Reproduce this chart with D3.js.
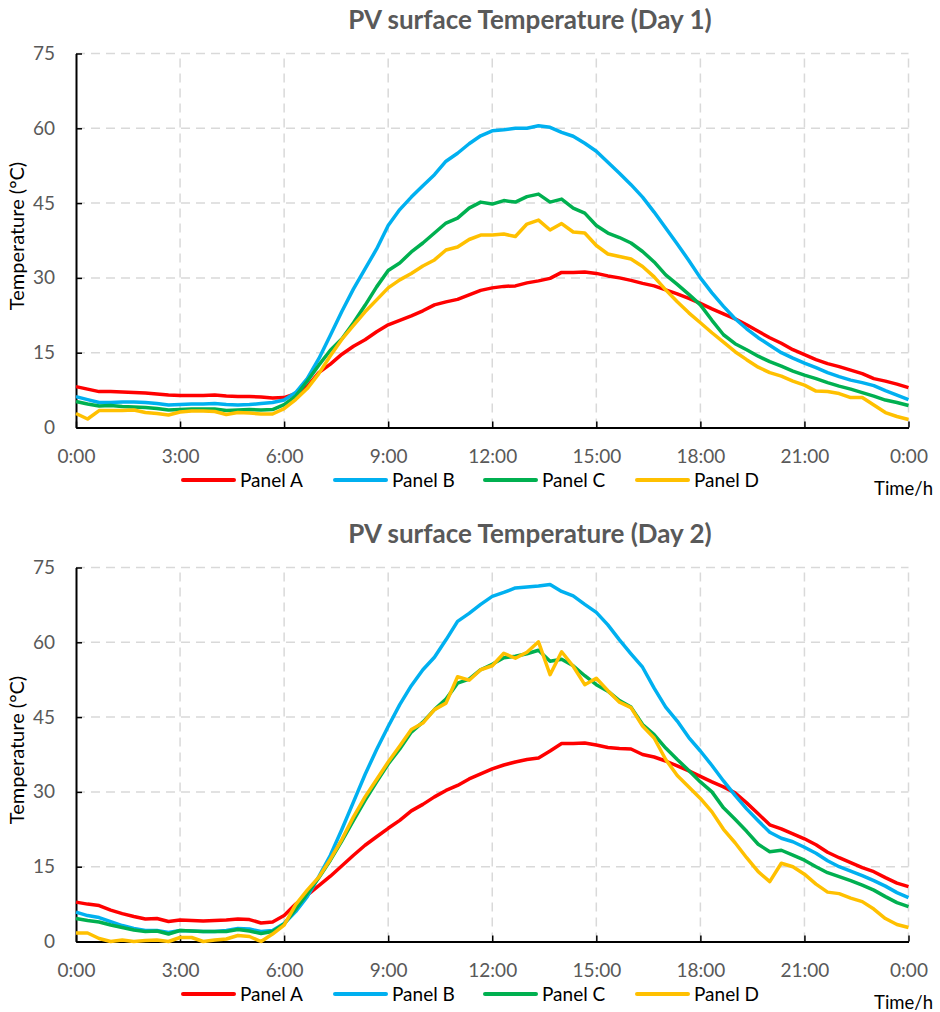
<!DOCTYPE html>
<html>
<head>
<meta charset="utf-8">
<script src="https://cdn.jsdelivr.net/npm/d3@7"></script>
<style>
  body { margin: 0; background: #fff; }
  text { font-family: Lato, "Open Sans", sans-serif; }
</style>
</head>
<body>
<svg id="chart" width="940" height="1012"></svg>
<script>
// Samples are logged every 20 minutes from 0:00 to 24:00 (73 readings per panel).
const sampleStepMinutes = 20;

const tickHours = [0, 3, 6, 9, 12, 15, 18, 21, 24];
const tickLabels = ["0:00", "3:00", "6:00", "9:00", "12:00", "15:00", "18:00", "21:00", "0:00"];
const tempTicks = [0, 15, 30, 45, 60, 75];

const panelNames = ["Panel A", "Panel B", "Panel C", "Panel D"];
const panelColors = ["#ff0000", "#00b0f0", "#00b050", "#ffc000"];

// Day 1 surface temperatures (°C)
const day1PanelA = [8.2,7.7,7.2,7.2,7.1,7.0,6.9,6.7,6.5,6.4,6.4,6.4,6.5,6.3,6.2,6.2,6.1,5.9,
  6.0,6.8,8.2,11.0,12.7,14.7,16.3,17.6,19.2,
  20.6,21.5,22.4,23.4,24.6,25.2,25.7,26.6,27.5,
  28.0,28.3,28.4,29.0,29.4,29.9,31.1,31.1,31.2,
  30.9,30.4,30.0,29.5,28.9,28.4,27.6,26.8,25.9,
  24.9,23.8,22.8,21.8,20.6,19.3,18.0,16.9,15.6,
  14.6,13.6,12.8,12.2,11.5,10.8,9.8,9.3,8.7,
  8.0];
const day1PanelB = [6.2,5.6,5.0,5.0,5.1,5.1,5.0,4.8,4.5,4.6,4.7,4.7,4.8,4.6,4.5,4.6,4.8,5.0,
  5.5,7.0,9.8,13.8,18.5,23.3,27.8,31.8,35.8,
  40.5,43.7,46.2,48.5,50.7,53.4,55.0,56.9,58.5,
  59.5,59.7,60.0,60.0,60.5,60.2,59.2,58.4,57.0,
  55.4,53.2,51.0,48.7,46.2,43.2,40.0,36.8,33.5,
  30.0,27.0,24.3,21.8,19.8,18.0,16.5,15.0,13.9,
  12.9,12.0,11.0,10.2,9.5,9.0,8.4,7.4,6.5,
  5.6];
const day1PanelC = [5.2,4.7,4.3,4.4,4.2,4.1,4.0,3.8,3.5,3.6,3.7,3.7,3.7,3.4,3.5,3.6,3.5,3.6,
  4.6,6.3,9.3,12.5,15.5,17.8,21.0,24.5,28.2,
  31.5,33.0,35.2,37.0,39.0,41.0,42.0,44.0,45.2,
  44.8,45.5,45.2,46.3,46.8,45.2,45.8,44.0,43.0,
  40.5,39.0,38.1,37.0,35.3,33.2,30.6,28.7,26.7,
  24.6,21.5,18.6,16.8,15.6,14.3,13.2,12.3,11.3,
  10.5,9.8,9.0,8.3,7.7,7.0,6.3,5.5,5.0,
  4.4];
const day1PanelD = [2.8,1.7,3.4,3.4,3.4,3.5,3.0,2.8,2.5,3.1,3.3,3.3,3.2,2.6,3.0,2.9,2.7,2.7,
  3.8,5.6,7.8,10.8,14.4,17.7,20.5,23.2,25.6,
  28.0,29.6,30.9,32.4,33.6,35.6,36.2,37.7,38.6,
  38.6,38.8,38.3,40.8,41.6,39.6,40.9,39.2,39.0,
  36.5,34.8,34.3,33.8,32.3,30.2,27.6,25.2,23.0,
  21.0,19.0,17.1,15.2,13.6,12.1,11.0,10.3,9.3,
  8.5,7.3,7.2,6.8,6.0,6.0,4.5,3.0,2.2,
  1.6];

// Day 2 surface temperatures (°C)
const day2PanelA = [7.9,7.5,7.2,6.3,5.6,5.0,4.5,4.6,4.0,4.3,4.2,4.1,4.2,4.3,4.5,4.4,3.7,3.9,
  5.2,7.5,9.3,11.2,13.1,15.2,17.3,19.3,21.0,
  22.7,24.3,26.2,27.5,29.0,30.3,31.3,32.6,33.6,
  34.6,35.4,36.0,36.5,36.8,38.2,39.7,39.7,39.8,
  39.4,38.9,38.7,38.6,37.5,37.0,36.2,35.2,34.2,
  33.1,32.0,31.0,29.8,27.8,25.6,23.4,22.6,21.6,
  20.6,19.4,17.9,16.8,15.8,14.8,14.0,12.8,11.7,
  11.0];
const day2PanelB = [5.9,5.2,4.8,4.0,3.2,2.6,2.2,2.2,1.8,2.2,2.1,2.0,2.0,2.2,2.6,2.5,2.0,2.2,
  3.6,6.0,9.0,13.0,17.3,22.5,28.0,33.5,38.5,
  43.1,47.5,51.3,54.5,57.0,60.5,64.2,65.8,67.6,
  69.2,70.0,70.9,71.1,71.3,71.6,70.2,69.3,67.6,
  66.0,63.5,60.5,57.7,55.0,50.8,47.0,44.2,40.9,
  38.2,35.3,32.2,29.3,26.6,24.2,21.9,20.7,20.0,
  18.9,17.7,16.2,15.0,14.1,13.2,12.2,11.1,9.8,
  8.8];
const day2PanelC = [4.6,4.2,3.9,3.3,2.8,2.3,2.0,2.1,1.5,2.2,2.1,2.0,2.0,2.0,2.4,2.1,1.6,2.0,
  3.5,6.5,9.6,12.8,16.3,20.2,24.3,28.3,32.0,
  35.6,38.6,42.0,44.0,46.5,48.6,51.8,52.6,54.5,
  55.6,56.9,57.2,57.7,58.4,56.2,56.6,55.3,53.3,
  51.5,50.2,48.3,47.0,43.5,41.5,38.8,36.5,34.3,
  32.0,30.0,26.8,24.5,22.1,19.5,18.0,18.3,17.3,
  16.3,15.0,13.8,13.0,12.2,11.3,10.3,9.0,7.8,
  7.0];
const day2PanelD = [1.7,1.7,0.6,0.0,0.3,0.0,0.2,0.3,0.0,0.8,0.8,0.0,0.3,0.5,1.2,1.0,0.0,1.5,
  3.3,7.4,10.3,12.9,16.5,20.5,25.0,29.0,32.5,
  36.0,39.2,42.5,43.8,46.5,47.8,53.1,52.4,54.5,
  55.3,57.8,56.8,58.0,60.1,53.5,58.1,55.2,51.5,
  52.8,50.3,48.0,46.9,43.2,40.8,36.5,33.3,31.0,
  28.7,26.0,22.5,19.8,16.8,14.0,12.0,15.7,15.0,
  13.5,11.5,9.9,9.6,8.7,8.0,6.5,4.6,3.4,
  2.8];

const days = [
  { title: "PV surface Temperature (Day 1)", top: 53.5, series: [day1PanelA, day1PanelB, day1PanelC, day1PanelD] },
  { title: "PV surface Temperature (Day 2)", top: 567.5, series: [day2PanelA, day2PanelB, day2PanelC, day2PanelD] }
];

const svg = d3.select("#chart");
const plotLeft = 76, plotRight = 908.5, plotHeight = 374;
const tickColor = "#595959";

const x = d3.scaleLinear().domain([0, 24]).range([plotLeft, plotRight]);

days.forEach(day => {
  const bottom = day.top + plotHeight;
  const y = d3.scaleLinear().domain([0, 75]).range([bottom, day.top]);
  const g = svg.append("g");

  // title
  g.append("text")
    .attr("x", 530).attr("y", day.top - 24.5)
    .attr("text-anchor", "middle")
    .attr("font-size", 26).attr("font-weight", "bold")
    .attr("fill", tickColor)
    .text(day.title);

  // dashed gridlines
  const grid = g.append("g")
    .attr("stroke", "#d9d9d9").attr("stroke-width", 1.5)
    .attr("stroke-dasharray", "9,6");
  grid.selectAll("line.h").data(tempTicks.filter(t => t > 0)).join("line")
    .attr("class", "h")
    .attr("x1", plotLeft).attr("x2", plotRight)
    .attr("y1", d => y(d)).attr("y2", d => y(d));
  grid.selectAll("line.v").data(tickHours.filter(t => t > 0)).join("line")
    .attr("class", "v")
    .attr("x1", d => x(d)).attr("x2", d => x(d))
    .attr("y1", bottom).attr("y2", day.top);

  // axes
  const xAxis = d3.axisBottom(x)
    .tickValues(tickHours)
    .tickFormat((d, i) => tickLabels[i])
    .tickSize(-6).tickSizeOuter(0).tickPadding(22);
  const xg = g.append("g").attr("transform", `translate(0,${bottom})`).call(xAxis);

  const yAxis = d3.axisLeft(y)
    .tickValues(tempTicks)
    .tickSize(-6).tickSizeOuter(0).tickPadding(21);
  const yg = g.append("g").attr("transform", `translate(${plotLeft},0)`).call(yAxis);

  [xg, yg].forEach(a => {
    a.select(".domain").attr("stroke", "#000").attr("stroke-width", 2);
    a.selectAll(".tick line").attr("stroke", "#000").attr("stroke-width", 1.5);
    a.selectAll(".tick text").attr("fill", tickColor).attr("font-size", 19)
      .attr("font-family", 'Lato, "Open Sans", sans-serif');
  });

  // y-axis title
  g.append("text")
    .attr("transform", `translate(24,${day.top + plotHeight / 2 - 4.5}) rotate(-90)`)
    .attr("text-anchor", "middle")
    .attr("font-size", 20).attr("fill", "#000")
    .text("Temperature (°C)");

  // x-axis unit
  g.append("text")
    .attr("x", 933).attr("y", bottom + 67.5)
    .attr("text-anchor", "end")
    .attr("font-size", 18.5).attr("fill", "#000")
    .text("Time/h");

  // temperature curves
  const line = d3.line()
    .x((d, i) => x(i * sampleStepMinutes / 60))
    .y(d => y(d));
  g.selectAll("path.series").data(day.series).join("path")
    .attr("class", "series")
    .attr("fill", "none")
    .attr("stroke", (d, i) => panelColors[i])
    .attr("stroke-width", 3.5)
    .attr("stroke-linejoin", "round")
    .attr("d", line);

  // legend
  const legendY = bottom + 52.5;
  const legendStarts = [183, 335, 485, 637];
  const lg = g.append("g");
  panelNames.forEach((name, i) => {
    lg.append("line")
      .attr("x1", legendStarts[i]).attr("x2", legendStarts[i] + 51)
      .attr("y1", legendY).attr("y2", legendY)
      .attr("stroke", panelColors[i]).attr("stroke-width", 4)
      .attr("stroke-linecap", "round");
    lg.append("text")
      .attr("x", legendStarts[i] + 57).attr("y", legendY)
      .attr("dy", "0.35em")
      .attr("font-size", 19).attr("fill", "#000")
      .text(name);
  });
});
</script>
</body>
</html>
